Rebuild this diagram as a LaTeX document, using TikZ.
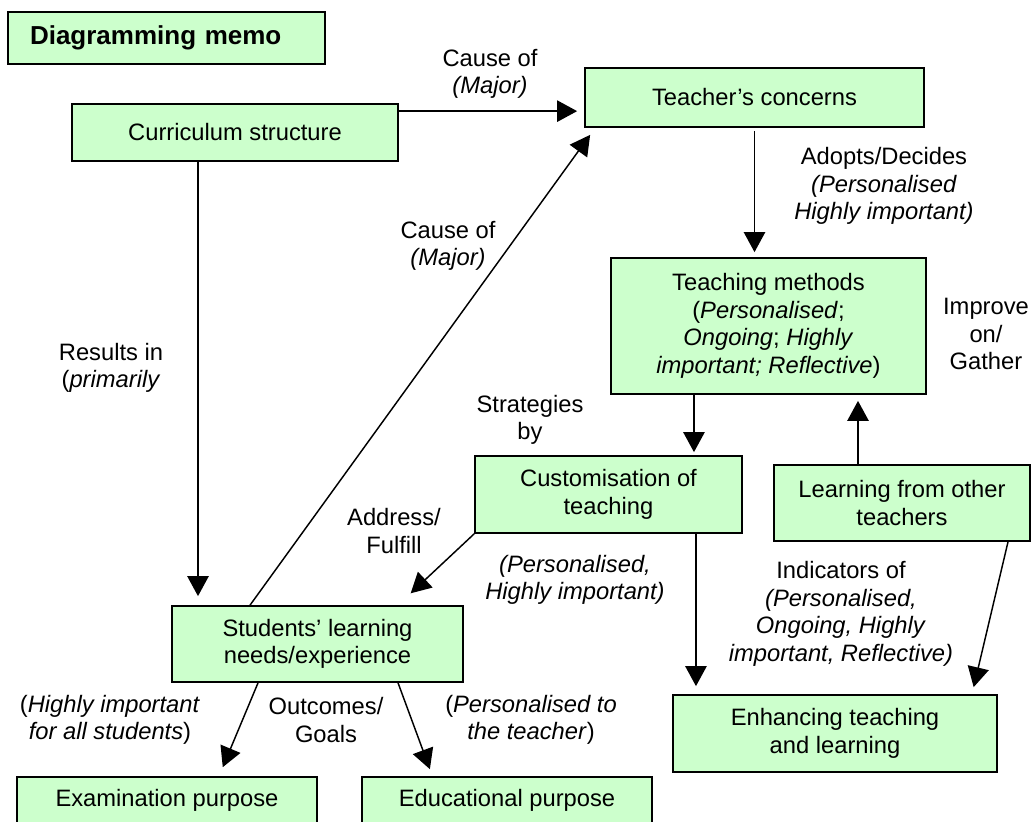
\documentclass[tikz,border=0pt]{standalone}
\usepackage{fontspec}
\setmainfont{Liberation Sans}
\usetikzlibrary{arrows.meta,calc}
\definecolor{boxgreen}{HTML}{CCFFCC}
\newcommand\dfont{\fontsize{17.8}{20.6}\selectfont}
\newcommand\tfont{\fontsize{19.5}{22}\selectfont\bfseries}
\begin{document}
\begin{tikzpicture}[x=0.75pt,y=-0.75pt,
  box/.style={draw=black, fill=boxgreen, line width=1.3pt, align=center, inner sep=0pt, font=\dfont},
  lbl/.style={align=center, font=\dfont, inner sep=0pt},
  arr/.style={line width=1.1pt, -{Triangle[length=15pt,width=16pt]}}]
\useasboundingbox (0,0) rectangle (1031,821);
\clip (0,0) rectangle (1031,821);

% boxes
\node[box, minimum width=237.75pt, minimum height=39pt, text width=204.75pt,
      inner xsep=16.5pt, align=left, font=\tfont] (memo) at (166.5,38) {Diagramming memo};
\node[box, minimum width=244.5pt, minimum height=42.75pt] (curr) at (235,132.5) {Curriculum structure};
\node[box, minimum width=254.25pt, minimum height=44.25pt] (conc) at (754.5,97.5) {Teacher’s concerns};
\node[box, minimum width=236.25pt, minimum height=102pt] (meth) at (768.5,326)
  {Teaching methods\\(\textit{Personalised};\\\textit{Ongoing}; \textit{Highly}\\\textit{important; Reflective})};
\node[box, minimum width=200.25pt, minimum height=57.75pt] (cust) at (608.5,494.5) {Customisation of\\teaching};
\node[box, minimum width=192pt, minimum height=57pt] (learn) at (902,503) {Learning from other\\teachers};
\node[box, minimum width=218.25pt, minimum height=57pt] (stud) at (317.5,644) {Students’ learning\\needs/experience};
\node[box, minimum width=243pt, minimum height=57.75pt] (enh) at (835,733.5) {Enhancing teaching\\and learning};
\node[box, minimum width=225pt, minimum height=34.5pt] (exam) at (167,800) {Examination purpose};
\node[box, minimum width=217.5pt, minimum height=34.5pt] (edu) at (507,800) {Educational purpose};

% connectors
\coordinate (c1) at ([yshift=-6pt]curr.north east);
\draw[arr, shorten >=5.25pt] (c1) -- (c1 -| conc.west);
\coordinate (c2) at ([xshift=-27.75pt]curr.south);
\draw[arr, shorten >=6.75pt] (c2) -- (c2 |- stud.north);
\draw[arr] ([xshift=-50.6pt]stud.north) -- ([xshift=4.5pt,yshift=-5.25pt]conc.south west);
\draw[arr, shorten <=2.25pt, shorten >=3.75pt] (conc.south) -- (conc.south |- meth.north);
\coordinate (c3) at ([xshift=-55.9pt]meth.south);
\draw[arr, shorten >=2.25pt] (c3) -- (c3 |- cust.north);
\coordinate (c4) at ([xshift=-33pt]learn.north);
\draw[arr, shorten >=4.5pt] (c4) -- (c4 |- meth.south);
\coordinate (c5) at ([xshift=65.6pt]cust.south);
\draw[arr, shorten >=6pt] (c5) -- (c5 |- enh.north);
\draw[arr, shorten >=5.4pt] ([xshift=79.5pt]learn.south) -- ([xshift=102.75pt]enh.north);
\draw[arr, shorten >=13pt] (cust.south west) -- ([xshift=60.4pt]stud.north);
\draw[arr, shorten >=7.3pt] ([xshift=-44.6pt]stud.south) -- ([xshift=39pt]exam.north);
\draw[arr, shorten >=5.6pt] ([xshift=60.4pt]stud.south) -- ([xshift=-55.9pt]edu.north);

% connector labels
\node[lbl] (l1) at (490,74) {Cause of\\\textit{(Major)}};
\node[lbl] (l2) at (448,246) {Cause of\\\textit{(Major)}};
\node[lbl] (l3) at (884,186) {Adopts/Decides\\\textit{(Personalised}\\\textit{Highly important)}};
\node[lbl] (l4) at (111,368) {Results in\\(\textit{primarily}};
\node[lbl] (l5) at (530,420) {Strategies\\by};
\node[lbl] (l6) at (394,531) {Address/\\Fulfill};
\node[lbl] (l7) at (575,580) {\textit{(Personalised,}\\\textit{Highly important)}};
\node[lbl] (l8) at (986,334) {Improve\\on/\\Gather};
\node[lbl] (l9) at (841,614) {Indicators of\\\textit{(Personalised,}\\\textit{Ongoing, Highly}\\\textit{important, Reflective)}};
\node[lbl] (l10) at (110,720) {(\textit{Highly important}\\\textit{for all students})};
\node[lbl] (l11) at (326,720) {Outcomes/\\Goals};
\node[lbl] (l12) at (531,720) {(\textit{Personalised to}\\\textit{the teacher})};
\end{tikzpicture}
\end{document}
